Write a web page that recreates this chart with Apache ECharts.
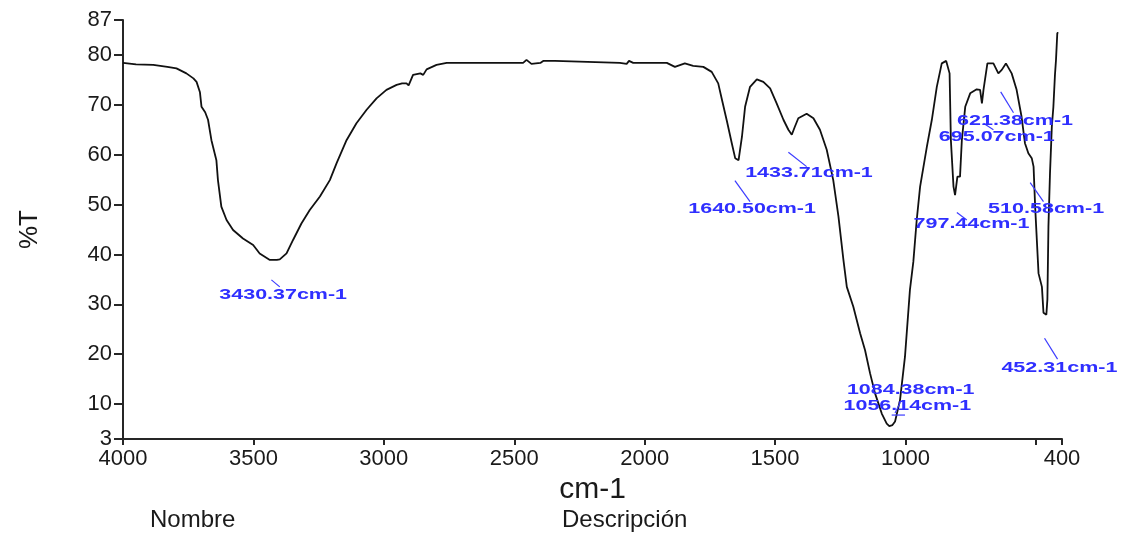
<!DOCTYPE html>
<html>
<head>
<meta charset="utf-8">
<script src="https://cdn.jsdelivr.net/npm/echarts@6/dist/echarts.min.js"></script>
<style>
  html, body { margin: 0; padding: 0; background: #ffffff; }
  #chart { width: 1128px; height: 533px; }
</style>
</head>
<body>
<div id="chart"></div>
<script>
// ---- Spectrum data (wavenumber cm-1, %T) ----
const wavenumber = [
  4000,3950,3884,3830,3795,3757,3730,3718,3705,3699,
  3685,3674,3661,3642,3636,3623,3603,3578,3540,3501,
  3476,3437,3410,3399,3373,3348,3316,3284,3245,3207,
  3181,3143,3105,3066,3028,2990,2951,2930,2913,2905,
  2888,2860,2849,2836,2798,2759,2466,2453,2434,2400,
  2389,2344,2338,2095,2088,2069,2060,2044,1915,1884,
  1846,1814,1775,1743,1718,1705,1698,1685,1666,1653,
  1640,1627,1615,1596,1570,1545,1519,1494,1468,1449,
  1436,1425,1411,1379,1353,1328,1302,1277,1257,1238,
  1225,1200,1174,1155,1136,1117,1091,1072,1062,1050,
  1040,1021,1002,983,970,957,944,931,918,899,
  880,861,844,831,826,816,810,801,791,784,
  771,752,727,714,707,701,686,663,644,631,
  615,593,574,555,542,529,516,509,503,490,
  477,471,465,460,456,452,446,439,433,427,
  423,418,414
];
const transmittance = [
  78.4,78.1,78.0,77.6,77.3,76.3,75.3,74.6,72.5,69.6,
  68.5,67.0,62.9,58.9,54.9,49.6,46.9,44.9,43.2,41.9,
  40.2,38.9,38.9,39.0,40.2,42.9,46.2,48.9,51.6,54.9,
  58.3,62.9,66.3,69.0,71.3,73.0,74.0,74.3,74.3,73.9,
  76.0,76.3,76.0,77.1,78.0,78.4,78.4,79.0,78.2,78.4,
  78.8,78.8,78.4,78.4,78.8,78.2,78.8,78.4,78.4,77.6,
  78.3,77.8,77.6,76.6,74.3,71.3,71.0,66.8,62.3,59.3,
  58.9,63.6,69.6,73.6,75.1,74.6,73.3,70.3,67.0,65.0,
  64.0,65.5,67.3,68.2,67.3,65.0,61.0,54.9,47.6,38.9,
  33.5,29.5,24.2,20.8,16.2,12.2,8.1,6.1,5.6,5.8,
  6.5,10.8,19.5,32.9,38.5,46.9,53.6,57.6,61.6,67.0,
  73.6,78.3,78.8,76.3,62.9,53.6,51.9,55.6,55.6,62.9,
  69.6,72.3,73.1,73.0,70.3,73.0,78.3,78.3,76.3,77.0,
  78.3,76.3,73.0,67.6,62.3,60.3,59.3,57.6,49.6,36.2,
  33.5,28.3,27.9,27.9,31.0,45.6,56.3,65.6,69.6,76.0,
  79.0,84.4,84.4
];

// ---- Axis ticks ----
const xTickValues  = [4000,3500,3000,2500,2000,1500,1000,500,400];
const xLabelValues = [4000,3500,3000,2500,2000,1500,1000,400];
const yTickValues  = [3,10,20,30,40,50,60,70,80,87];

// ---- Peak annotations (data coordinates: wavenumber, %T) ----
const peakLabels = ['3430.37cm-1','1640.50cm-1','1433.71cm-1','1084.38cm-1','1056.14cm-1',
                    '797.44cm-1','695.07cm-1','621.38cm-1','510.58cm-1','452.31cm-1'];
const labelWn    = [3386, 1588, 1370, 980, 993, 747, 650, 580, 461, 410];
const labelT     = [31.9, 49.1, 56.3, 12.7, 9.6, 46.0, 63.5, 66.8, 49.0, 17.2];
const tickFromWn = [3431, 1654, 1449, 1053, 1021, 803, 701, 635, 522, 467];
const tickFromT  = [34.9, 54.8, 60.5, 7.8, 10.2, 48.4, 66.3, 72.6, 54.4, 23.2];
const tickToWn   = [3399, 1596, 1379, 1002, 1040, 765, 663, 586, 471, 417];
const tickToT    = [33.5, 50.6, 57.6, 7.8, 8.2, 46.9, 65.0, 68.4, 50.6, 19.0];

const annoFont = 'bold 14px "Liberation Sans", Arial, sans-serif';
const charPitch = 11.6;
const measureCtx = document.createElement('canvas').getContext('2d');
measureCtx.font = annoFont;
function stretchFor(t) {
  const w = measureCtx.measureText(t).width || 1;
  return (t.length * charPitch) / w;
}

const chart = echarts.init(document.getElementById('chart'), null, { renderer: 'canvas' });
const axisColor = '#262626';
const labelFont = 'Liberation Sans';

const option = {
  animation: false,
  backgroundColor: '#ffffff',
  grid: { left: 123, right: 66, top: 20, bottom: 94, containLabel: false },
  xAxis: {
    type: 'value',
    inverse: true,
    min: 400,
    max: 4000,
    name: 'cm-1',
    nameLocation: 'middle',
    nameGap: 34,
    nameTextStyle: { fontFamily: labelFont, fontSize: 30, color: '#1a1a1a' },
    axisLine: { show: true, onZero: false, lineStyle: { color: axisColor, width: 2 } },
    axisTick: { show: true, length: 6, customValues: xTickValues, lineStyle: { color: axisColor, width: 2 } },
    axisLabel: {
      customValues: xLabelValues, margin: 9, fontFamily: labelFont, fontSize: 22, color: '#1a1a1a',
      formatter: function (v) { return String(v); }
    },
    splitLine: { show: false }
  },
  yAxis: {
    type: 'value',
    min: 3,
    max: 87,
    name: '%T',
    nameLocation: 'middle',
    nameRotate: 90,
    nameGap: 80,
    nameTextStyle: { fontFamily: labelFont, fontSize: 26, color: '#1a1a1a' },
    axisLine: { show: true, onZero: false, lineStyle: { color: axisColor, width: 2 } },
    axisTick: { show: true, length: 9, customValues: yTickValues, lineStyle: { color: axisColor, width: 2 } },
    axisLabel: {
      customValues: yTickValues, margin: 11, fontFamily: labelFont, fontSize: 22, color: '#1a1a1a',
      formatter: function (v) { return String(v); }
    },
    splitLine: { show: false }
  },
  series: [
    {
      type: 'line',
      data: wavenumber.map((w, i) => [w, transmittance[i]]),
      showSymbol: false,
      symbol: 'none',
      lineStyle: { color: '#111111', width: 1.8 },
      z: 3
    },
    {
      type: 'custom',
      data: peakLabels.map((t, i) => [labelWn[i], labelT[i], tickFromWn[i], tickFromT[i], tickToWn[i], tickToT[i]]),
      encode: { x: 0, y: 1 },
      clip: false,
      z: 5,
      renderItem: function (params, api) {
        const c = api.coord([api.value(0), api.value(1)]);
        const a = api.coord([api.value(2), api.value(3)]);
        const b = api.coord([api.value(4), api.value(5)]);
        const text = peakLabels[params.dataIndex];
        return {
          type: 'group',
          children: [
            {
              type: 'line',
              shape: { x1: a[0], y1: a[1], x2: b[0], y2: b[1] },
              style: { stroke: '#3b3bff', lineWidth: 1.2 }
            },
            {
              type: 'text',
              x: c[0],
              y: c[1],
              scaleX: stretchFor(text),
              style: {
                text: text,
                x: 0, y: 0,
                align: 'center',
                verticalAlign: 'middle',
                font: annoFont,
                fill: '#2f2fff'
              }
            }
          ]
        };
      }
    }
  ],
  graphic: [
    { type: 'text', left: 150, top: 508, style: { text: 'Nombre', font: '24px "Liberation Sans", Arial, sans-serif', fill: '#1a1a1a' } },
    { type: 'text', left: 562, top: 508, style: { text: 'Descripción', font: '24px "Liberation Sans", Arial, sans-serif', fill: '#1a1a1a' } }
  ]
};
chart.setOption(option);
</script>
</body>
</html>
